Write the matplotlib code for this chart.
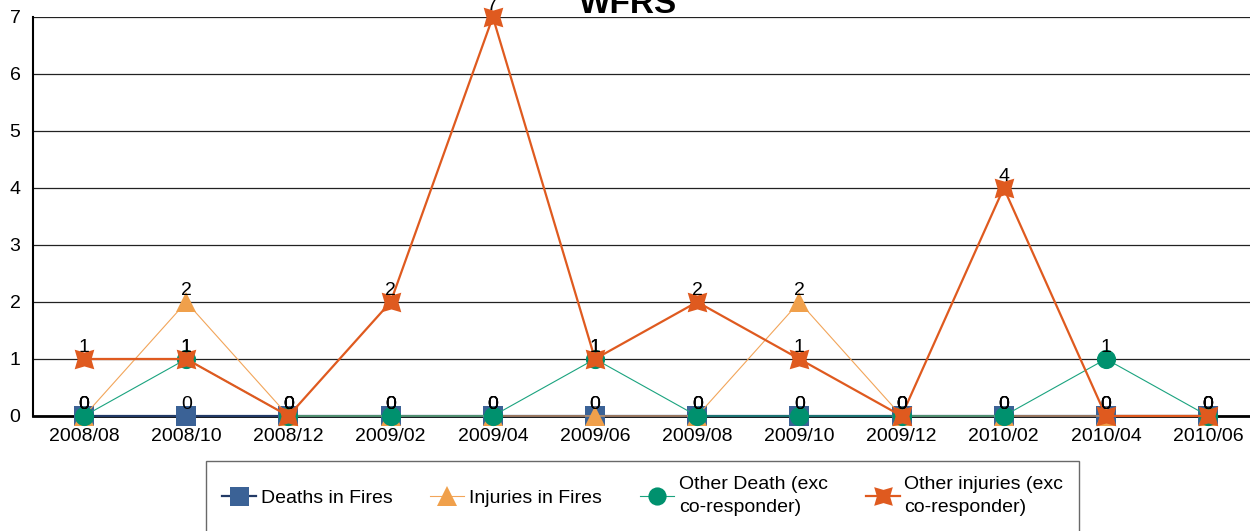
import matplotlib
matplotlib.use("Agg")
import matplotlib.pyplot as plt

plt.rcParams['font.family'] = ['Liberation Sans', 'DejaVu Sans']

months = ['2008/08', '2008/10', '2008/12', '2009/02', '2009/04', '2009/06',
          '2009/08', '2009/10', '2009/12', '2010/02', '2010/04', '2010/06']
deaths_fires = [0, 0, 0, 0, 0, 0, 0, 0, 0, 0, 0, 0]
injuries_fires = [0, 2, 0, 0, 0, 0, 0, 2, 0, 0, 0, 0]
other_death = [0, 1, 0, 0, 0, 1, 0, 0, 0, 0, 1, 0]
other_injuries = [1, 1, 0, 2, 7, 1, 2, 1, 0, 4, 0, 0]

series = [
    ('Deaths in Fires', deaths_fires, '#223a66', '#3b6296', 's', 14.4, 1.6),
    ('Injuries in Fires', injuries_fires, '#f2a55a', '#f0a04b', '^', 14.5, 0.8),
    ('Other Death (exc\nco-responder)', other_death, '#1aa37f', '#00916e', 'o', 13.8, 0.8),
    ('Other injuries (exc\nco-responder)', other_injuries, '#df5a1f', '#df5a1f', (4, 1, 45), 20, 1.6),
]

fig = plt.figure(figsize=(12.5, 5.31), dpi=100)
ax = fig.add_axes([0.0264, 0.2166, 0.9736, 0.7514])

x = list(range(len(months)))
for i, (name, vals, lc, mc, mk, ms, lw) in enumerate(series):
    ax.plot(x, vals, color=lc, lw=lw, marker=mk, markersize=ms,
            markerfacecolor=mc, markeredgecolor=mc, markeredgewidth=0,
            label=name, clip_on=False, zorder=3 + i)
for name, vals, lc, mc, mk, ms, lw in series:
    for xi, v in zip(x, vals):
        ax.annotate(str(v), (xi, v), xytext=(0, 5), textcoords='offset points',
                    ha='center', va='baseline', fontsize=14, color='black',
                    zorder=10, annotation_clip=False)

ax.set_xlim(-0.5, 11.41)
ax.set_ylim(0, 7)
ax.set_yticks(range(0, 8))
ax.set_xticks(x)
ax.set_xticklabels(months)
ax.tick_params(axis='both', length=0, labelsize=14)
ax.tick_params(axis='y', pad=9)
ax.tick_params(axis='x', pad=9)
ax.grid(axis='y', color='#222222', lw=0.9)
ax.set_axisbelow(True)
ax.spines['top'].set_visible(False)
ax.spines['right'].set_visible(False)
ax.spines['left'].set_color('black')
ax.spines['left'].set_linewidth(1.5)
ax.spines['bottom'].set_color('black')
ax.spines['bottom'].set_linewidth(2)

fig.text(0.5024, 0.9755, 'WFRS', ha='center', va='baseline',
         fontsize=24, fontweight='bold')

leg = fig.legend(loc='upper center', bbox_to_anchor=(0.514, 0.132), ncol=4,
                 fontsize=14, frameon=True, fancybox=False, handlelength=1.75,
                 handletextpad=0.25, columnspacing=1.95, borderpad=0.8,
                 borderaxespad=0)
leg.get_frame().set_edgecolor('#444444')
leg.get_frame().set_linewidth(1)
for t in leg.get_texts():
    t.set_linespacing(1.45)
for h in leg.legend_handles:
    h.set_markersize(h.get_markersize() * 0.95)

fig.savefig('out.png', dpi=100)
